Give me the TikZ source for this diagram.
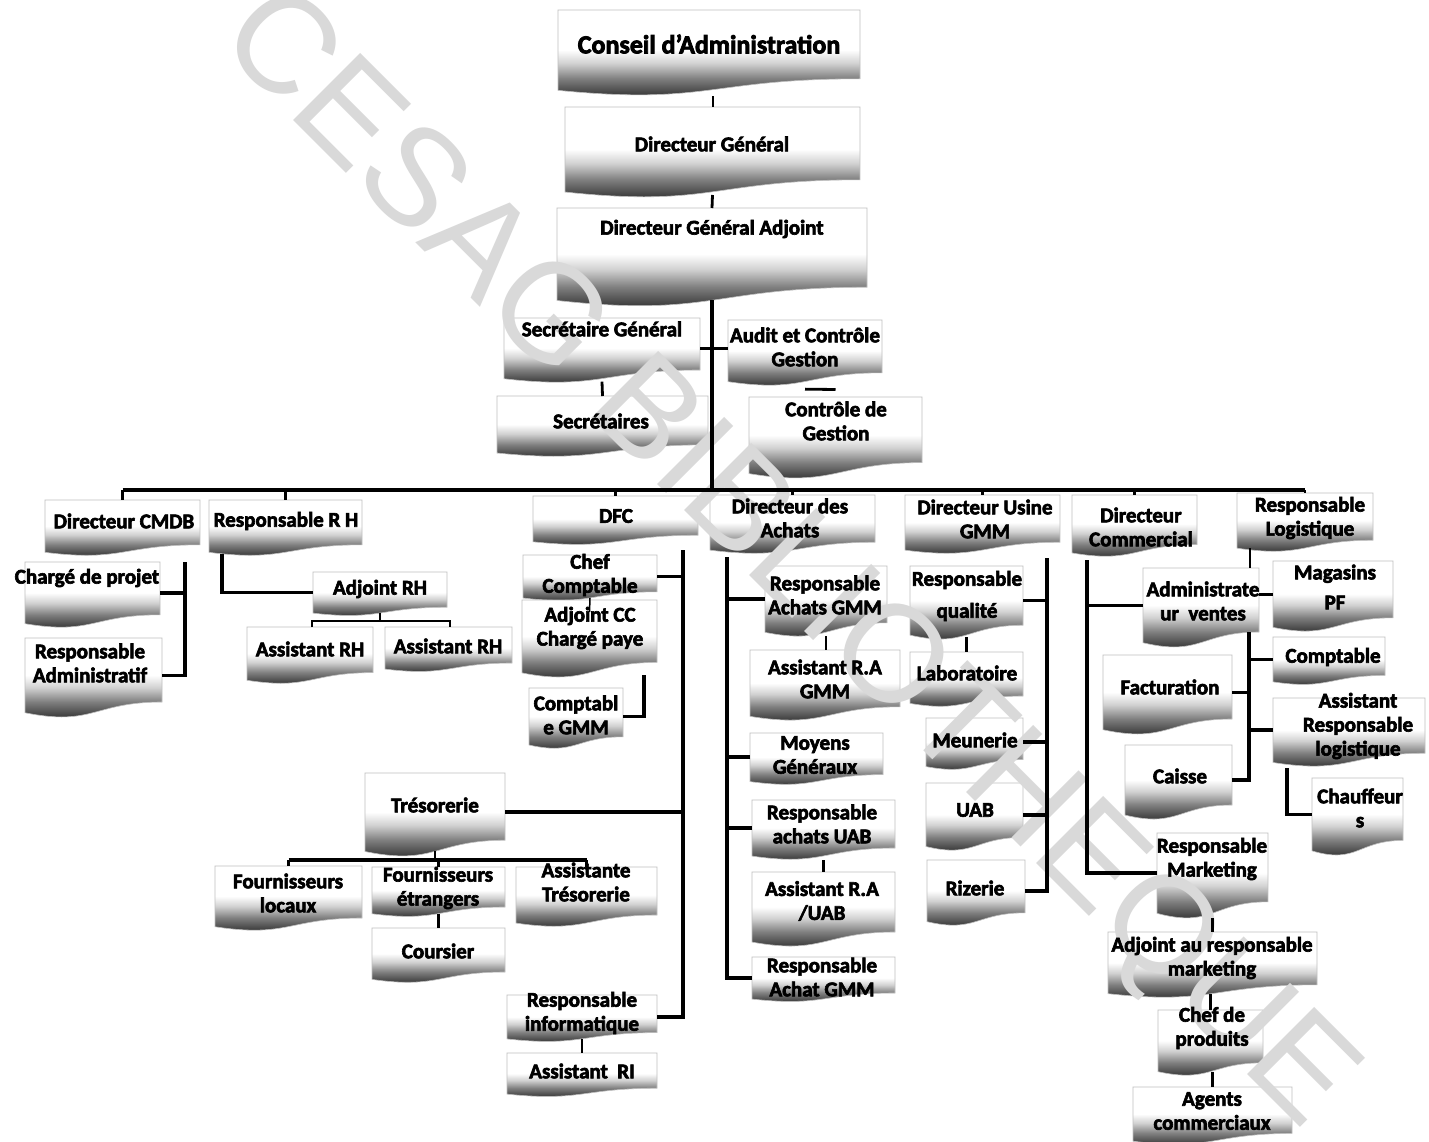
\documentclass[tikz,border=0pt]{standalone}
\usepackage{fontspec}
\setmainfont{Carlito}[BoldFeatures={FakeBold=3}]
\newfontfamily\wmfont{Liberation Sans}
\usetikzlibrary{calc}

\pgfdeclarelayer{stamp}
\pgfdeclarelayer{fore}
\pgfsetlayers{main,stamp,fore}

% fill of the document boxes: white on top, dark towards the wavy bottom
\pgfdeclareverticalshading{docshade}{100bp}{rgb(0bp)=(0.12,0.12,0.12); rgb(25bp)=(0.12,0.12,0.12); rgb(31bp)=(0.25,0.25,0.25); rgb(39bp)=(0.5,0.5,0.5); rgb(47bp)=(0.82,0.82,0.82); rgb(54bp)=(1,1,1); rgb(100bp)=(1,1,1)}

\tikzset{
  docshape/.style={shade, shading=docshade, draw=gray!50, line width=0.6pt},
  boxarea/.style={inner sep=0pt, outer sep=0pt, draw=none},
  lbl/.style={font=\fontsize{21}{24}\selectfont\bfseries, align=center, inner sep=0pt, text=black},
  conn/.style={line width=3.6pt},
  tick/.style={line width=2.8pt},
}

% \docbox{name}{x left}{y top}{x right}{height}{text x}{text y}{text}
\newcommand\docbox[8]{%
  \pgfmathsetmacro\dbxm{(#2+#4)/2}%
  \pgfmathsetmacro\dbyr{#3+0.8*#5}%
  \pgfmathsetmacro\dbyc{#3+1.107*#5}%
  \pgfmathsetmacro\dbyl{#3+0.934*#5}%
  \pgfmathsetmacro\dbym{#3+0.467*#5}%
  \pgfmathsetmacro\dbw{#4-#2}%
  \pgfmathsetmacro\dbh{0.934*#5}%
  \path[docshape] (#2,#3) -- (#4,#3) -- (#4,\dbyr) .. controls (\dbxm,\dbyr) and (\dbxm,\dbyc) .. (#2,\dbyl) -- cycle;
  \node[boxarea, minimum width=\dbw pt, minimum height=\dbh pt] (#1) at (\dbxm,\dbym) {};
  \begin{pgfonlayer}{fore}
    \node[lbl] (#1-t) at (#6,#7) {#8};
  \end{pgfonlayer}
}

\begin{document}
\begin{tikzpicture}[x=1pt, y=-1pt]
\fill[white] (0,0) rectangle (1429,1142);
\useasboundingbox (0,0) rectangle (1429,1142);

% ---- top of the hierarchy
\docbox{cons}{558}{10}{860}{86}{709}{44}{\fontsize{26}{29}\selectfont Conseil d'Administration}
\docbox{dg}{565}{107}{860}{91}{712}{144}{Directeur Général}
\docbox{dga}{557}{208}{867}{99}{712}{229}{Directeur Général Adjoint}
\docbox{sg}{504}{318}{700}{65}{602}{329}{Secrétaire Général}
\docbox{audit}{728}{320}{882}{66}{805}{347}{Audit et Contrôle\\Gestion}
\docbox{secr}{497}{396}{708}{61}{601}{421}{Secrétaires}
\docbox{cdg}{749}{397}{922}{82}{836}{421}{Contrôle de\\Gestion}

% ---- directions
\docbox{cmdb}{45}{500}{200}{56}{124}{521}{Directeur CMDB}
\docbox{rh}{209}{500}{362}{56}{286}{521}{Responsable R H}
\docbox{dfc}{533}{496}{698}{49}{616}{516}{DFC}
\docbox{dach}{710}{495}{875}{59}{790}{518}{Directeur des\\Achats}
\docbox{dus}{905}{495}{1060}{59}{985}{519}{Directeur Usine\\GMM}
\docbox{dcom}{1072}{495}{1197}{62}{1141}{527}{Directeur\\Commercial}
\docbox{rlog}{1237}{493}{1373}{59}{1310}{518}{Responsable\\Logistique}

% ---- CMDB
\docbox{chp}{25}{562}{160}{66}{87}{578}{Chargé de projet}
\docbox{radm}{25}{638}{162}{80}{90}{663}{Responsable\\Administratif}

% ---- RH
\docbox{adjrh}{313}{572}{447}{44}{380}{589}{Adjoint RH}
\docbox{arh1}{247}{627}{373}{57}{310}{649}{Assistant RH}
\docbox{arh2}{385}{627}{512}{45}{448}{646}{Assistant RH}

% ---- DFC
\docbox{chef}{523}{555}{657}{46}{590}{575}{Chef\\Comptable}
\docbox{adjcc}{522}{600}{657}{78}{590}{628}{Adjoint CC\\Chargé paye}
\docbox{cgmm}{529}{688}{623}{61}{576}{715}{Comptabl\\e GMM}
\docbox{treso}{365}{773}{505}{84}{435}{805}{Trésorerie}
\docbox{floc}{215}{866}{362}{65}{288}{893}{Fournisseurs\\locaux}
\docbox{fetr}{372}{867}{505}{50}{438}{888}{Fournisseurs\\étrangers}
\docbox{atres}{516}{867}{657}{60}{586}{882}{Assistante\\Trésorerie}
\docbox{cours}{372}{928}{505}{55}{438}{951}{Coursier}
\docbox{rinfo}{507}{995}{657}{47}{582}{1013}{Responsable\\informatique}
\docbox{ari}{507}{1053}{657}{44}{582}{1071}{Assistant\ \ RI}

% ---- Achats
\docbox{ragmm}{765}{566}{887}{71}{825}{595}{Responsable\\Achats GMM}
\docbox{aragmm}{750}{650}{900}{71}{825}{679}{Assistant R.A\\GMM}
\docbox{moy}{750}{733}{883}{52}{815}{755}{Moyens\\Généraux}
\docbox{rauab}{752}{800}{895}{60}{822}{824}{Responsable\\achats UAB}
\docbox{arauab}{752}{872}{895}{75}{822}{901}{Assistant R.A\\/UAB}
\docbox{ragmmb}{752}{957}{895}{45}{822}{977}{Responsable\\Achat GMM}

% ---- Usine
\docbox{rq}{910}{566}{1023}{74}{967}{596}{Responsable\\[8pt]qualité}
\docbox{labo}{910}{652}{1023}{55}{967}{673}{Laboratoire}
\docbox{meun}{926}{718}{1023}{52}{975}{740}{Meunerie}
\docbox{uab}{926}{783}{1023}{68}{975}{810}{UAB}
\docbox{riz}{927}{860}{1025}{66}{975}{888}{Rizerie}

% ---- Commercial
\docbox{adv}{1143}{568}{1259}{80}{1203}{601}{Administrate\\ur\ \ ventes}
\docbox{mag}{1273}{561}{1393}{71}{1335}{587}{Magasins\\[6pt]PF}
\docbox{compt}{1273}{637}{1385}{48}{1333}{657}{Comptable}
\docbox{fact}{1103}{655}{1232}{80}{1170}{687}{Facturation}
\docbox{caisse}{1125}{745}{1232}{75}{1180}{776}{Caisse}
\docbox{arl}{1273}{698}{1425}{69}{1358}{726}{Assistant\\Responsable\\logistique}
\docbox{chauf}{1312}{778}{1403}{78}{1360}{808}{Chauffeur\\s}
\docbox{rmkt}{1157}{833}{1268}{86}{1212}{859}{Responsable\\Marketing}
\docbox{armkt}{1108}{932}{1317}{66}{1212}{958}{Adjoint au responsable\\marketing}
\docbox{chefp}{1158}{1010}{1263}{66}{1212}{1028}{Chef de\\produits}
\docbox{agents}{1133}{1087}{1292}{58}{1212}{1111}{Agents\\commerciaux}

\begin{pgfonlayer}{fore}
% ---- connectors: top chain
\draw[line width=2pt] ($(dg.north |- cons.south)+(0,6)$) -- (dg.north);
\draw[tick] ($(dg.south)+(0,3)$) -- (dga.north);
\coordinate (busL) at (123,490);
\draw[conn] (dga.south) -- (dga.south |- busL);
\draw[tick] (sg.east) -- (sg.east -| audit.west);
\draw[tick] ($(sg.south)+(0,3)$) -- (secr.north);
\draw[tick] ($(audit.south)+(0,7.5)$) -- ($(cdg.north)+(0,-7.5)$);

% ---- main bus and its drops
\draw[conn] (cmdb.north |- busL) -- (rlog.north |- busL);
\foreach \n in {cmdb,rh,dfc,dach,dus,dcom,rlog}
  \draw[tick] (\n.north |- busL) -- (\n.north);

% ---- CMDB
\coordinate (cmdbS) at (185,562);
\draw[conn] (cmdbS) -- (cmdbS |- radm.east) -- (radm.east);
\draw[conn] (chp.east) -- (chp.east -| cmdbS);

% ---- RH
\draw[conn] ($(rh.south west)+(13,2)$) |- (adjrh.west);
\coordinate (rhbL) at (312,621);
\coordinate (rhbR) at (450,621);
\draw[tick] (adjrh.south) -- (adjrh.south |- rhbL);
\draw[tick] (rhbL |- arh1.north) -- (rhbL) -- (rhbR) -- (rhbR |- arh2.north);

% ---- DFC
\coordinate (dfcS) at (683,550);
\draw[conn] (dfcS) -- (dfcS |- rinfo.east) -- (rinfo.east);
\draw[conn] (chef.east) -- (chef.east -| dfcS);
\draw[conn] (treso.east) -- (treso.east -| dfcS);
\draw[line width=1.5pt] (chef.south) -- ($(adjcc.north)+(0,12)$);
\coordinate (ccS) at (644,675);
\draw[conn] (ccS) |- (cgmm.east);
\coordinate (trbus) at (437,860);
\draw[tick] (treso.south) -- (treso.south |- trbus);
\draw[conn] (floc.north |- trbus) -- (atres.north |- trbus);
\foreach \n in {floc,fetr,atres}
  \draw[tick] (\n.north |- trbus) -- (\n.north);
\draw[tick] (fetr.south) -- (cours.north);
\draw[tick] (rinfo.south) -- (ari.north);

% ---- Achats
\coordinate (achS) at (727,557);
\draw[conn] (achS) -- (achS |- ragmmb.west) -- (ragmmb.west);
\foreach \n in {ragmm,moy,rauab}
  \draw[conn] (\n.west) -- (\n.west -| achS);
\draw[tick] ($(ragmm.south)+(0,4)$) -- (ragmm.south |- aragmm.north);
\draw[tick] ($(rauab.south)+(0,4)$) -- (arauab.north);

% ---- Usine
\coordinate (usS) at (1047,558);
\draw[conn] (usS) -- (usS |- riz.east) -- (riz.east);
\foreach \n in {rq,meun,uab}
  \draw[conn] (\n.east) -- (\n.east -| usS);
\draw[tick] ($(rq.south)+(0,2)$) -- (labo.north);

% ---- Commercial
\coordinate (comS) at (1087,560);
\draw[conn] (comS) |- (rmkt.west);
\draw[conn] (adv.west) -- (adv.west -| comS);
\draw[tick] (adv.east |- mag.west) -- (mag.west);
\draw[tick] ($(rlog.south west)+(13,0)$) -- ($(adv.north east)+(-9,0)$);
\coordinate (advS) at (1249,632);
\draw[conn] (advS) -- (advS |- caisse.east) -- (caisse.east);
\draw[conn] (compt.west) -- (compt.west -| advS);
\draw[conn] (fact.east) -- (fact.east -| advS);
\draw[conn] (arl.west) -- (arl.west -| advS);
\coordinate (arlS) at (1287,768);
\draw[conn] (arlS) |- (chauf.west);
\draw[tick] ($(rmkt.south)+(0,5)$) -- (armkt.north);
\draw[tick] (chefp.north |- armkt.south) -- (chefp.north);
\draw[tick] (agents.north |- chefp.south) -- (agents.north);
\end{pgfonlayer}

% ---- library stamp across the sheet, between the boxes and the lettering
\begin{pgfonlayer}{stamp}
\node[rotate=-45, text=black!15, inner sep=0pt,
      font=\fontsize{138}{138}\wmfont] (stamp) at (785,562) {CESAG BIBLIOTHEQUE};
\end{pgfonlayer}
\end{tikzpicture}
\end{document}
